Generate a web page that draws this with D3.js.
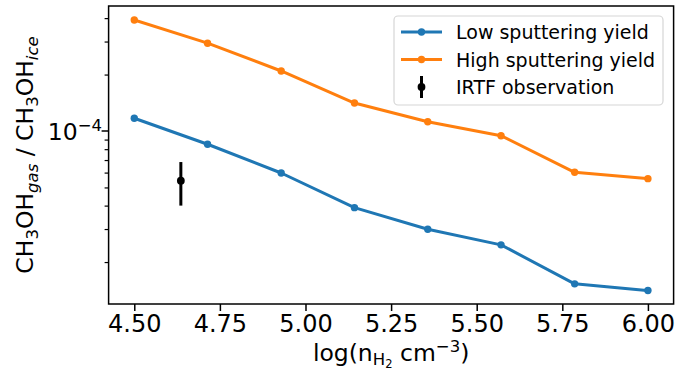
<!DOCTYPE html>
<html>
<head>
<meta charset="utf-8">
<script src="https://cdn.jsdelivr.net/npm/d3@7"></script>
<style>
  body { margin: 0; background: #fff; }
  text { font-family: "DejaVu Sans", sans-serif; fill: #000; }
</style>
</head>
<body>
<div id="chart"></div>
<script>
const width = 695,
      height = 370,
      margin = {top: 6, right: 21.4, bottom: 66, left: 108.6};

// density grid, log(n_H2)
const density = [4.5, 4.714, 4.929, 5.143, 5.357, 5.571, 5.786, 6.0];
// gas / ice ratios
const lowYield = [1.17e-4, 8.5e-5, 5.97e-5, 3.9e-5, 2.99e-5, 2.47e-5, 1.53e-5, 1.41e-5];
const highYield = [3.91e-4, 2.94e-4, 2.09e-4, 1.41e-4, 1.12e-4, 9.44e-5, 6.02e-5, 5.57e-5];
// IRTF observation with error bar
const obsX = [4.636];
const obsY = [5.43e-5];
const obsLow = [4.0e-5];
const obsHigh = [6.83e-5];

const xTicks = [4.5, 4.75, 5.0, 5.25, 5.5, 5.75, 6.0];
const yMinorTicks = [2e-5, 3e-5, 4e-5, 5e-5, 6e-5, 7e-5, 8e-5, 9e-5, 2e-4, 3e-4, 4e-4];

const seriesNames = ["Low sputtering yield", "High sputtering yield", "IRTF observation"];
const colors = ["#1f77b4", "#ff7f0e", "#000000"];

const svg = d3.select("#chart").append("svg")
    .attr("width", width)
    .attr("height", height);

// matplotlib-ish 5% margins
const x = d3.scaleLinear()
    .domain([4.425, 6.075])
    .range([margin.left, width - margin.right]);
const y = d3.scaleLog()
    .domain([Math.pow(10, -4.9227), Math.pow(10, -3.3333)])
    .range([height - margin.bottom, margin.top]);

const plotBottom = height - margin.bottom;

// ******* Lines *******
const line = d3.line()
    .x(function(d, i) { return x(density[i]); })
    .y(function(d) { return y(d); });

[lowYield, highYield].forEach(function(series, k) {
    svg.append("path")
        .datum(series)
        .attr("d", line)
        .attr("fill", "none")
        .attr("stroke", colors[k])
        .attr("stroke-width", 3)
        .attr("stroke-linejoin", "round")
        .attr("stroke-linecap", "square");
    svg.selectAll(".pt" + k)
        .data(series)
        .enter()
        .append("circle")
        .attr("cx", function(d, i) { return x(density[i]); })
        .attr("cy", function(d) { return y(d); })
        .attr("r", 3.7)
        .attr("fill", colors[k]);
});

// ******* Error bar *******
svg.selectAll(".err")
    .data(obsX)
    .enter()
    .append("line")
    .attr("x1", function(d) { return x(d); })
    .attr("x2", function(d) { return x(d); })
    .attr("y1", function(d, i) { return y(obsLow[i]); })
    .attr("y2", function(d, i) { return y(obsHigh[i]); })
    .attr("stroke", "#000")
    .attr("stroke-width", 3);
svg.selectAll(".obs")
    .data(obsX)
    .enter()
    .append("circle")
    .attr("cx", function(d) { return x(d); })
    .attr("cy", function(d, i) { return y(obsY[i]); })
    .attr("r", 3.9)
    .attr("fill", "#000");

// ******* Axes *******
const xAxis = svg.append("g")
    .attr("transform", `translate(0 ${plotBottom})`)
    .call(d3.axisBottom(x).tickValues(xTicks).tickFormat(d3.format(".2f")).tickSize(7).tickPadding(3.5));
xAxis.select(".domain").remove();
xAxis.selectAll("line").attr("stroke-width", 1.5);
xAxis.selectAll("text")
    .style("font-family", "DejaVu Sans")
    .style("font-size", "24px");

const yAxis = svg.append("g")
    .attr("transform", `translate(${margin.left} 0)`)
    .call(d3.axisLeft(y).tickValues(yMinorTicks).tickFormat("").tickSize(4));
yAxis.select(".domain").remove();
yAxis.selectAll("line").attr("stroke-width", 1.2);

// major tick at 1e-4
svg.append("line")
    .attr("x1", margin.left - 7)
    .attr("x2", margin.left)
    .attr("y1", y(1e-4))
    .attr("y2", y(1e-4))
    .attr("stroke", "#000")
    .attr("stroke-width", 1.5);
const ylab = svg.append("text")
    .attr("x", 102)
    .attr("y", y(1e-4) + 9)
    .attr("text-anchor", "end")
    .style("font-size", "23.5px");
ylab.append("tspan").text("10");
ylab.append("tspan").attr("dy", -9.5).style("font-size", "16.5px").text("\u22124");

// frame
svg.append("rect")
    .attr("x", margin.left)
    .attr("y", margin.top)
    .attr("width", width - margin.right - margin.left)
    .attr("height", plotBottom - margin.top)
    .attr("fill", "none")
    .attr("stroke", "#000")
    .attr("stroke-width", 1.5);

// ******* Axis labels *******
const xl = svg.append("text")
    .attr("x", (margin.left + width - margin.right) / 2)
    .attr("y", 361)
    .attr("text-anchor", "middle")
    .style("font-size", "23.5px");
xl.append("tspan").text("log(n");
xl.append("tspan").attr("dy", 3.5).style("font-size", "16.5px").text("H");
xl.append("tspan").attr("dy", 3.5).style("font-size", "11.5px").text("2");
xl.append("tspan").attr("dy", -7).text(" cm");
xl.append("tspan").attr("dy", -9).style("font-size", "16.5px").text("\u22123");
xl.append("tspan").attr("dy", 9).text(")");

const yl = svg.append("text")
    .attr("transform", `translate(33 ${(margin.top + plotBottom) / 2}) rotate(-90)`)
    .attr("text-anchor", "middle")
    .style("font-size", "23.5px");
yl.append("tspan").text("CH");
yl.append("tspan").attr("dy", 5).style("font-size", "16.5px").text("3");
yl.append("tspan").attr("dy", -5).text("OH");
yl.append("tspan").attr("dy", 5).style("font-size", "16.5px").style("font-style", "italic").text("gas");
yl.append("tspan").attr("dy", -5).text(" / CH");
yl.append("tspan").attr("dy", 5).style("font-size", "16.5px").text("3");
yl.append("tspan").attr("dy", -5).text("OH");
yl.append("tspan").attr("dy", 5).style("font-size", "16.5px").style("font-style", "italic").text("ice");

// ******* Legend *******
const legend = svg.append("g");
legend.append("rect")
    .attr("x", 394)
    .attr("y", 16)
    .attr("width", 269)
    .attr("height", 89)
    .attr("rx", 4)
    .attr("fill", "#fff")
    .attr("fill-opacity", 0.8)
    .attr("stroke", "#d6d6d6")
    .attr("stroke-width", 1.2);

seriesNames.forEach(function(name, i) {
    const cy = 32 + i * 27.5;
    if (i < 2) {
        legend.append("line")
            .attr("x1", 401).attr("x2", 442)
            .attr("y1", cy).attr("y2", cy)
            .attr("stroke", colors[i])
            .attr("stroke-width", 3);
        legend.append("circle")
            .attr("cx", 421.5).attr("cy", cy).attr("r", 3.7)
            .attr("fill", colors[i]);
    } else {
        legend.append("line")
            .attr("x1", 421.5).attr("x2", 421.5)
            .attr("y1", cy - 11).attr("y2", cy + 11)
            .attr("stroke", "#000")
            .attr("stroke-width", 3);
        legend.append("circle")
            .attr("cx", 421.5).attr("cy", cy).attr("r", 3.9)
            .attr("fill", "#000");
    }
    legend.append("text")
        .attr("x", 456)
        .attr("y", cy + 7)
        .style("font-size", "19px")
        .text(name);
});
</script>
</body>
</html>
